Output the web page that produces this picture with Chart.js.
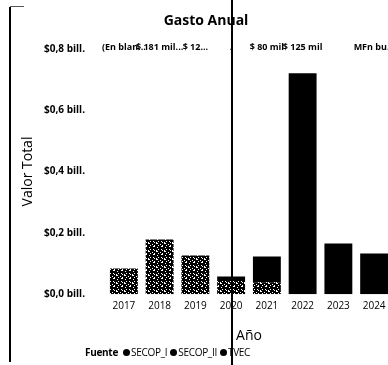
<!DOCTYPE html>
<html>
<head>
<meta charset="utf-8">
<script src="https://cdn.jsdelivr.net/npm/chart.js@4"></script>
<style>
  html, body { margin: 0; padding: 0; background: #fff; width: 388px; height: 365px; overflow: hidden; }
  #wrap { position: relative; width: 394px; height: 365px; }
  #frame { position: absolute; left: 9px; top: 7px; width: 2px; height: 355px; background: #000; }
  #frameTop { position: absolute; left: 10px; top: 6px; width: 14px; height: 1px; background: #555; }
  #cursor { position: absolute; left: 231px; top: 0; width: 2px; height: 365px; background: #000; }
  #legend { position: absolute; left: 85px; top: 345px; font: 10px "Open Sans", sans-serif; letter-spacing: -0.3px; color: #000; white-space: nowrap; }
  #legend b { margin-right: 5px; }
  #legend span { margin-right: 3px; }
  #legend i { display: inline-block; width: 7px; height: 7px; border-radius: 50%; background: #000; margin-right: 1px; }
</style>
</head>
<body>
<div id="wrap">
  <canvas id="chart" width="394" height="365"></canvas>
  <div id="frame"></div>
  <div id="frameTop"></div>
  <div id="legend"></div>
  <div id="cursor"></div>
</div>
<script>
// values in billones de pesos
const years = ['2017', '2018', '2019', '2020', '2021', '2022', '2023', '2024'];
const secopI = [0.084, 0.178, 0.126, 0.046, 0.039, 0, 0, 0];
const secopII = [0, 0, 0, 0.012, 0.084, 0.72, 0.165, 0.133];
const tvec = [0, 0, 0, 0, 0, 0, 0, 0];
const topLabels = ['(En blan...', '$ 181 mil...', '$ 12...', '.', '$ 80 mil', '$ 125 mil', '', 'MFn bu...'];
const seriesNames = ['SECOP_I', 'SECOP_II', 'TVEC'];

// speckled fill, the reference shows this series as a noisy dark texture
function speckle() {
  const rows = [
    '........',
    '.#....#.',
    '..#.#...',
    '....##..',
    '#.......',
    '..#...#.',
    '.##.....',
    '.....#..'
  ];
  const c = document.createElement('canvas');
  c.width = 8; c.height = 8;
  const g = c.getContext('2d');
  g.fillStyle = '#000';
  g.fillRect(0, 0, 8, 8);
  g.fillStyle = '#fff';
  rows.forEach((r, y) => {
    for (let x = 0; x < r.length; x++) if (r[x] === '#') g.fillRect(x, y, 1, 1);
  });
  return g.createPattern(c, 'repeat');
}

const topLabelPlugin = {
  id: 'topLabels',
  afterDatasetsDraw(chart) {
    const ctx = chart.ctx;
    const x = chart.scales.x;
    ctx.save();
    ctx.font = 'bold 9px "Open Sans", sans-serif';
    ctx.fillStyle = '#000';
    ctx.textAlign = 'center';
    ctx.textBaseline = 'middle';
    topLabels.forEach((t, i) => {
      if (t) ctx.fillText(t, x.getPixelForValue(i), chart.chartArea.top - 1);
    });
    ctx.restore();
  }
};

const fills = [speckle(), '#000', '#000'];

new Chart(document.getElementById('chart'), {
  type: 'bar',
  data: {
    labels: years,
    datasets: [secopI, secopII, tvec].map((d, i) => ({
      label: seriesNames[i],
      data: d,
      backgroundColor: fills[i],
      borderWidth: 0,
      barPercentage: 0.78,
      categoryPercentage: 1
    }))
  },
  options: {
    responsive: false,
    animation: false,
    layout: { padding: { left: 20, right: 2, bottom: 21 } },
    plugins: {
      legend: { display: false },
      tooltip: { enabled: false },
      title: {
        display: true,
        text: 'Gasto Anual',
        color: '#000',
        font: { family: 'Open Sans', size: 14, weight: 'bold' },
        padding: { top: 13, bottom: 19 }
      }
    },
    scales: {
      x: {
        stacked: true,
        grid: { display: false, drawTicks: false },
        border: { display: false },
        ticks: { color: '#000', font: { family: 'Open Sans', size: 10 }, padding: 6, maxRotation: 0 },
        title: { display: true, text: 'Año', color: '#000', font: { family: 'Open Sans', size: 14 }, padding: { top: 9, bottom: 0 } }
      },
      y: {
        stacked: true,
        min: 0,
        max: 0.8,
        grid: { display: false, drawTicks: false },
        border: { display: false },
        afterFit(s) { s.width = 86; },
        ticks: {
          stepSize: 0.2,
          color: '#000',
          padding: 21,
          font: { family: 'Open Sans', size: 10, weight: 'bold' },
          callback: v => '$' + v.toFixed(1).replace('.', ',') + ' bill.'
        },
        title: { display: true, text: 'Valor Total', color: '#000', font: { family: 'Open Sans', size: 14 }, padding: 0 }
      }
    }
  },
  plugins: [topLabelPlugin]
});

document.getElementById('legend').innerHTML = '<b>Fuente</b>' +
  seriesNames.map(n => '<span><i></i>' + n + '</span>').join('');
</script>
</body>
</html>
